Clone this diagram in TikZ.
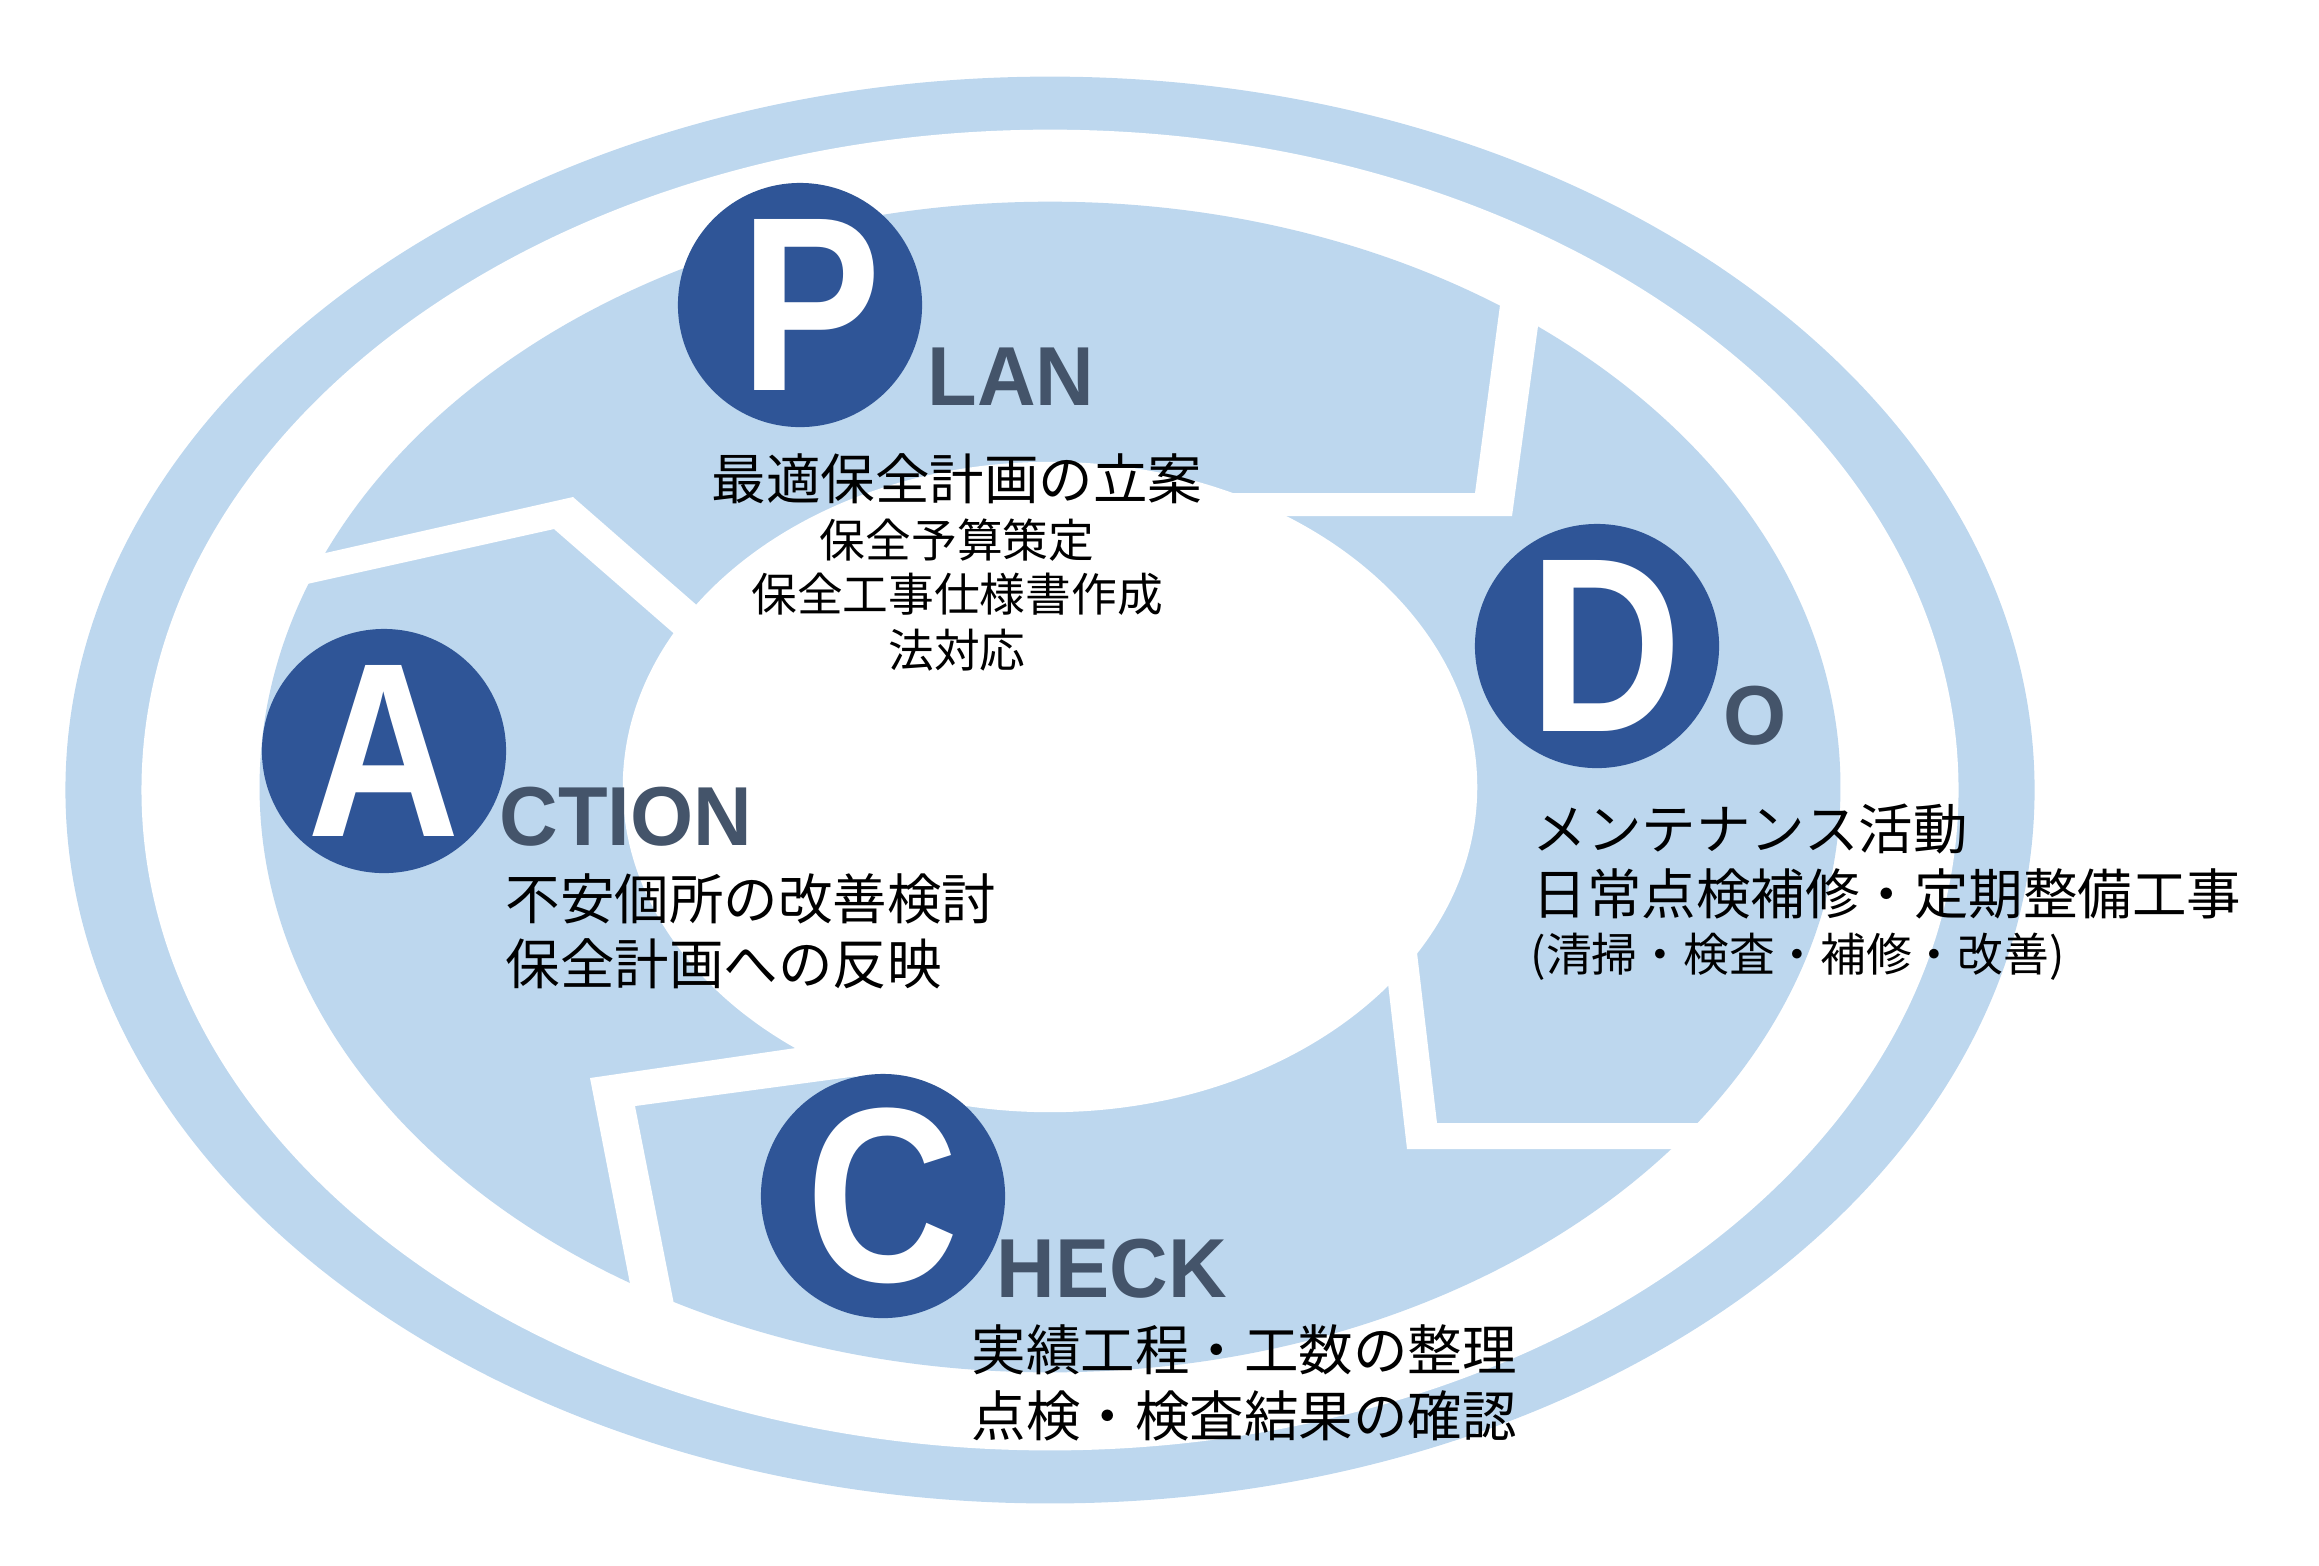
\documentclass[tikz,border=0pt]{standalone}
\usepackage{fontspec}
\usepackage{graphicx}
\setmainfont{Liberation Sans}
\newfontfamily\jpfont{Noto Sans CJK JP}
\usetikzlibrary{positioning}

\definecolor{ringblue}{HTML}{BDD7EE}
\definecolor{letterblue}{HTML}{2F5597}
\definecolor{wordgray}{HTML}{44546A}

\begin{document}
\begin{tikzpicture}[
    x=0.01cm, y=-0.01cm,
    letter/.style={circle, fill=letterblue, text=white, minimum size=2.44cm, inner sep=0pt, font=\fontsize{70.7}{70}\selectfont\bfseries},
    word/.style={anchor=base west, inner sep=0pt, text=wordgray, font=\fontsize{23.8}{24}\selectfont\bfseries},
    gap/.style={fill=white, draw=none},
    bigjp/.style={inner sep=0pt, text=black, font=\jpfont\fontsize{15.5}{16}\selectfont},
    smalljp/.style={inner sep=0pt, text=black, font=\jpfont\fontsize{13}{14}\selectfont}
]
\useasboundingbox (0,0) rectangle (2319,1565);

% Outer ring
\fill[ringblue] (1050,790) ellipse [x radius=9.84cm, y radius=7.13cm];
\fill[white] (1050,790) ellipse [x radius=9.08cm, y radius=6.60cm];

% Cycle ring
\fill[ringblue] (1050,787) ellipse [x radius=7.90cm, y radius=5.85cm];
\fill[white] (1050,787) ellipse [x radius=4.27cm, y radius=3.25cm];

% Gaps between the four steps
\fill[gap] (290,561) -- (573,497) -- (732,636) -- (709,664) -- (554,529) -- (280,590) -- cycle;
\fill[gap] (1504,275) -- (1475,493) -- (1200,493) -- (1200,516) -- (1512,516) -- (1545,275) -- cycle;
\fill[gap] (1412,910) -- (1437,1123) -- (1740,1123) -- (1740,1149) -- (1407,1149) -- (1383,940) -- cycle;
\fill[gap] (830,1043) -- (590,1078) -- (639,1330) -- (682,1345) -- (635,1106) -- (880,1073) -- cycle;

% Letter circles
\node[letter] (plan) at (800,305) {\kern6pt\scalebox{0.85}[1]{P}};
\node[letter] (do) at (1597,646) {\kern5pt\scalebox{0.85}[1]{D}};
\node[letter] (check) at (883,1196) {\scalebox{0.85}[1]{C}};
\node[letter] (action) at (384,751) {\scalebox{0.85}[1]{A}};

% Rest of the words
\node[word] (planword) at (927,405) {\scalebox{0.97}[1]{LAN}};
\node[word] (doword) at (1723,744) {\scalebox{0.97}[1]{O}};
\node[word] (checkword) at (996,1297) {\scalebox{0.97}[1]{HECK}};
\node[word] (actionword) at (499,845) {\scalebox{0.97}[1]{CTION}};

% Plan
\node[bigjp, anchor=base] (plan1) at (957,499) {最適保全計画の立案};
\node[smalljp, anchor=base] (plan2) at (957,557) {保全予算策定};
\node[smalljp, anchor=base] (plan3) at (957,611) {保全工事仕様書作成};
\node[smalljp, anchor=base] (plan4) at (957,667) {法対応};

% Do
\node[bigjp, anchor=base west] (do1) at (1532,849) {メンテナンス活動};
\node[bigjp, anchor=base west] (do2) at (1532,914) {日常点検補修・定期整備工事};
\node[smalljp, anchor=base west] (do3) at (1530,971) {(清掃・検査・補修・改善)};

% Check
\node[bigjp, anchor=base west] (check1) at (971,1370) {実績工程・工数の整理};
\node[bigjp, anchor=base west] (check2) at (971,1436) {点検・検査結果の確認};

% Action
\node[bigjp, anchor=base west] (action1) at (505,919) {不安個所の改善検討};
\node[bigjp, anchor=base west] (action2) at (505,984) {保全計画への反映};

\end{tikzpicture}
\end{document}
